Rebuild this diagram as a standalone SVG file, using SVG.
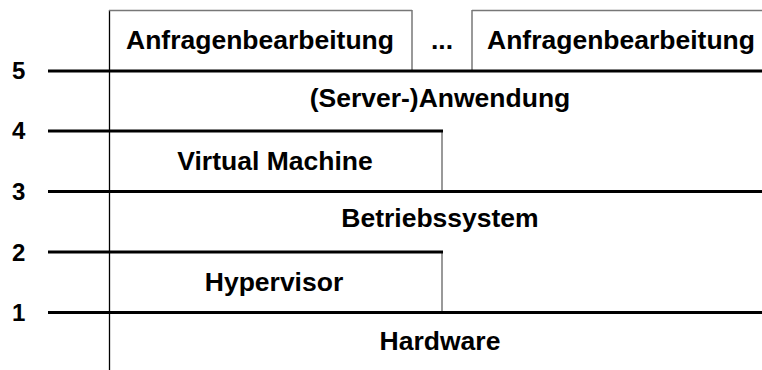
<svg xmlns="http://www.w3.org/2000/svg" width="762" height="370" viewBox="0 0 762 370">
  <style>
    .lbl { font-family: "Liberation Sans", Arial, sans-serif; font-weight: bold; font-size: 26.5px; fill: #000; text-anchor: middle; }
    .num { font-family: "Liberation Sans", Arial, sans-serif; font-weight: bold; font-size: 24px; fill: #000; }
    .level { stroke: #000; stroke-width: 3; fill: none; }
    .edge { stroke: #777; stroke-width: 1.5; fill: none; }
    .frame { stroke: #000; stroke-width: 1.3; fill: none; }
  </style>
  <rect width="762" height="370" fill="#fff"/>

  <!-- level numbers -->
  <g id="levels">
    <text class="num" x="12" y="79">5</text>
    <text class="num" x="12" y="139">4</text>
    <text class="num" x="12" y="200">3</text>
    <text class="num" x="12" y="261">2</text>
    <text class="num" x="12" y="321">1</text>
  </g>

  <!-- separators and borders -->
  <g id="connectors">
    <line class="frame" x1="109.5" y1="10" x2="109.5" y2="370"/>
    <line class="edge" x1="109" y1="10.5" x2="412" y2="10.5"/>
    <line class="edge" x1="412" y1="10" x2="412" y2="70"/>
    <line class="edge" x1="472" y1="10.5" x2="762" y2="10.5"/>
    <line class="edge" x1="472" y1="10" x2="472" y2="70"/>
    <line class="edge" x1="442" y1="131" x2="442" y2="191"/>
    <line class="edge" x1="442" y1="252" x2="442" y2="312"/>
    <line class="level" x1="48" y1="71" x2="762" y2="71"/>
    <line class="level" x1="48" y1="131" x2="443" y2="131"/>
    <line class="level" x1="48" y1="191.5" x2="762" y2="191.5"/>
    <line class="level" x1="48" y1="252" x2="443" y2="252"/>
    <line class="level" x1="48" y1="312.5" x2="762" y2="312.5"/>
  </g>

  <g id="request1"><text class="lbl" x="260" y="49">Anfragenbearbeitung</text></g>
  <g id="ellipsis"><text class="lbl" x="442" y="49">...</text></g>
  <g id="request2"><text class="lbl" x="621" y="49">Anfragenbearbeitung</text></g>
  <g id="application"><text class="lbl" x="440" y="107">(Server-)Anwendung</text></g>
  <g id="vm"><text class="lbl" x="275" y="170">Virtual Machine</text></g>
  <g id="os"><text class="lbl" x="440" y="227">Betriebssystem</text></g>
  <g id="hypervisor"><text class="lbl" x="274" y="291">Hypervisor</text></g>
  <g id="hardware"><text class="lbl" x="440" y="350">Hardware</text></g>
</svg>
